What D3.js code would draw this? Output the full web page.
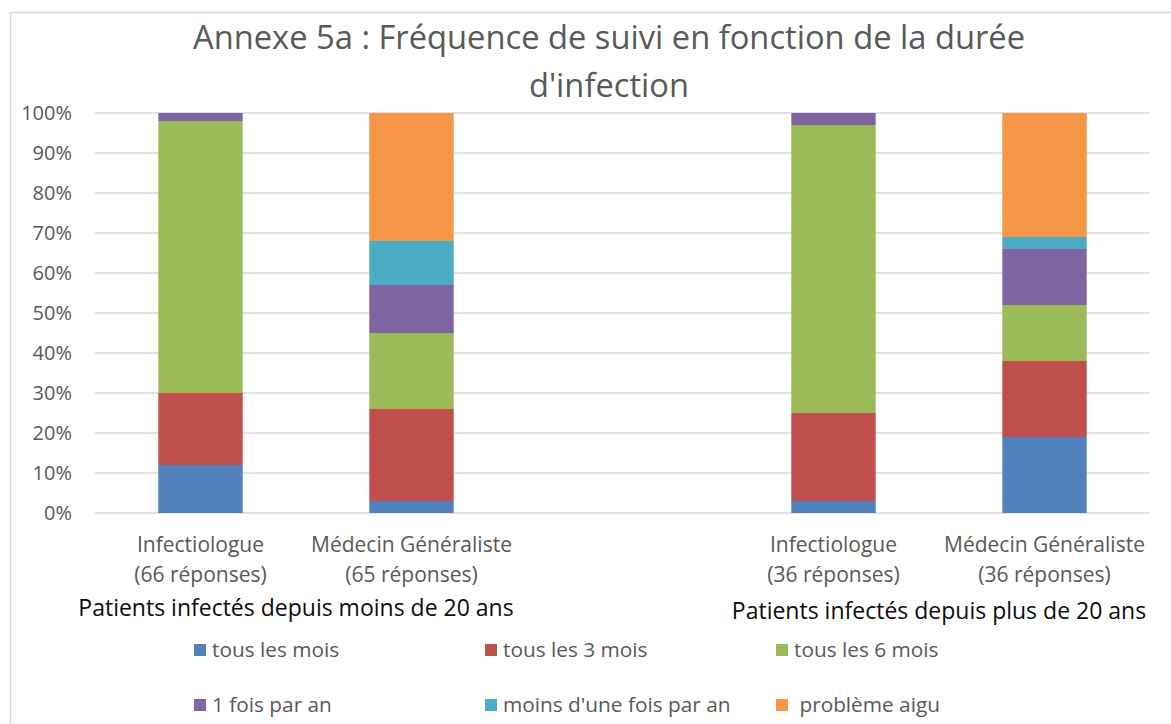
<!DOCTYPE html>
<html>
<head>
<meta charset="utf-8">
<script src="https://cdn.jsdelivr.net/npm/d3@7.9.0/dist/d3.min.js"></script>
<style>
  body { margin: 0; background: #fff; }
  svg { display: block; font-family: "Open Sans", sans-serif; }
  .grid line { stroke: #d9d9d9; stroke-width: 1.5; }
  text { fill: #595959; }
</style>
</head>
<body>
<svg width="1171" height="724"></svg>
<script>
// categories (empty slot between the two groups)
const catLine1 = ["Infectiologue", "Médecin Généraliste", "", "Infectiologue", "Médecin Généraliste"];
const catLine2 = ["(66 réponses)", "(65 réponses)", "", "(36 réponses)", "(36 réponses)"];
const groupLabels = ["Patients infectés depuis moins de 20 ans", "Patients infectés depuis plus de 20 ans"];
const groupCats = [[0, 1], [3, 4]];

const seriesNames = ["tous les mois", "tous les 3 mois", "tous les 6 mois", "1 fois par an", "moins d'une fois par an", " problème aigu"];
const seriesColors = ["#4f81bd", "#c0504d", "#9bbb59", "#8064a2", "#4bacc6", "#f79646"];

// values in %
const tousLesMois   = [12, 3, 0, 3, 19];
const tousLes3Mois  = [18, 23, 0, 22, 19];
const tousLes6Mois  = [68, 19, 0, 72, 14];
const unFoisParAn   = [2, 12, 0, 3, 14];
const moinsUneFois  = [0, 11, 0, 0, 3];
const problemeAigu  = [0, 32, 0, 0, 31];
const seriesValues = [tousLesMois, tousLes3Mois, tousLes6Mois, unFoisParAn, moinsUneFois, problemeAigu];

const yTicks = d3.range(0, 101, 10);

const svg = d3.select("svg");

// chart border (cropped on right/bottom)
svg.append("rect")
  .attr("x", 10.5).attr("y", 12.5)
  .attr("width", 1300).attr("height", 800)
  .attr("fill", "none").attr("stroke", "#d9d9d9").attr("stroke-width", 1.5);

const x = d3.scaleBand()
  .domain(d3.range(catLine1.length))
  .range([95, 1150])
  .paddingInner(0.6)
  .paddingOuter(0.3);

const y = d3.scaleLinear().domain([0, 100]).range([513, 113]);

// gridlines
svg.append("g").attr("class", "grid")
  .selectAll("line").data(yTicks).join("line")
  .attr("x1", 95).attr("x2", 1150)
  .attr("y1", d => y(d)).attr("y2", d => y(d));

// y axis labels
const yAxis = d3.axisLeft(y).tickValues(yTicks).tickFormat(d => d + "%").tickSize(0).tickPadding(0);
const gy = svg.append("g").attr("transform", "translate(72,0)").call(yAxis);
gy.select(".domain").remove();
gy.selectAll("text").attr("fill", "#595959").style("font-size", "20px").style("font-family", "Open Sans");

// stacked bars
const rows = d3.range(catLine1.length).map(i => {
  const r = { i };
  seriesNames.forEach((s, k) => r[k] = seriesValues[k][i]);
  return r;
});
const stack = d3.stack().keys(d3.range(seriesNames.length))(rows);

svg.append("g").selectAll("g").data(stack).join("g")
  .attr("fill", (d, k) => seriesColors[k])
  .selectAll("rect").data(d => d.filter(p => p[1] - p[0] > 0)).join("rect")
  .attr("x", d => x(d.data.i))
  .attr("width", x.bandwidth())
  .attr("y", d => y(d[1]))
  .attr("height", d => y(d[0]) - y(d[1]));

// category labels
const cats = svg.append("g").selectAll("text").data(d3.range(catLine1.length)).join("text")
  .attr("text-anchor", "middle")
  .style("font-size", "21px")
  .attr("x", i => x(i) + x.bandwidth() / 2);
cats.append("tspan").attr("y", 552).text(i => catLine1[i]);
cats.append("tspan").attr("y", 582).attr("x", i => x(i) + x.bandwidth() / 2).text(i => catLine2[i]);

// group labels
svg.append("g").selectAll("text").data(groupLabels).join("text")
  .attr("text-anchor", "middle")
  .style("font-size", "23px")
  .style("fill", "#0d0d0d")
  .attr("x", (d, g) => d3.mean(groupCats[g], i => x(i) + x.bandwidth() / 2) - (g === 0 ? 10 : 0))
  .attr("y", (d, g) => g === 0 ? 616 : 619)
  .text(d => d);

// title
const title = svg.append("text")
  .attr("text-anchor", "middle")
  .style("font-size", "32.7px");
title.append("tspan").attr("x", 609).attr("y", 49).text("Annexe 5a : Fréquence de suivi en fonction de la durée");
title.append("tspan").attr("x", 609).attr("y", 97).text("d'infection");

// legend
const legCols = [194, 485, 776];
const legRows = [650, 705];
const leg = svg.append("g").selectAll("g").data(seriesNames).join("g")
  .attr("transform", (d, k) => `translate(${legCols[k % 3]},${legRows[Math.floor(k / 3)]})`);
leg.append("rect").attr("x", 0).attr("y", -6).attr("width", 12).attr("height", 12)
  .attr("fill", (d, k) => seriesColors[k]);
leg.append("text").attr("x", 18).attr("dy", "0.35em")
  .style("font-size", "20.8px").style("white-space", "pre")
  .text(d => d);
</script>
</body>
</html>
